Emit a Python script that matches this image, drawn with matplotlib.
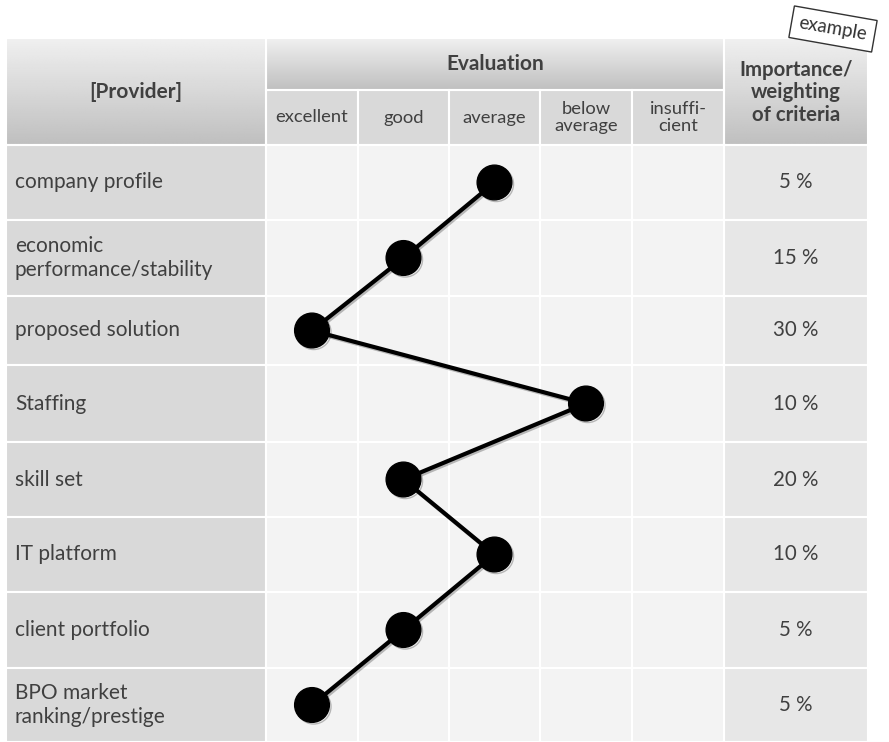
import matplotlib.pyplot as plt
import matplotlib.patheffects as pe
import numpy as np

# criteria, rating (1 = excellent ... 5 = insufficient) and weight
criteria = ['company profile', 'economic\nperformance/stability', 'proposed solution',
            'Staffing', 'skill set', 'IT platform', 'client portfolio',
            'BPO market\nranking/prestige']
ratings = [3, 2, 1, 4, 2, 3, 2, 1]
weights = ['5 %', '15 %', '30 %', '10 %', '20 %', '10 %', '5 %', '5 %']
scale_labels = ['excellent', 'good', 'average', 'below\naverage', 'insuffi-\ncient']

# layout (pixel grid of the figure)
W, H = 889, 742
col_edges = [6, 266, 358, 449, 540, 632, 724, 868]
row_edges = [145, 220, 296, 365, 442, 517, 592, 668, 742]
head_top, head_mid = 38, 90

txt = '#404040'
plt.rcParams['font.family'] = ['Lato', 'DejaVu Sans']

fig = plt.figure(figsize=(W / 100, H / 100), dpi=100)
ax = fig.add_axes([0, 0, 1, 1])
ax.set_xlim(0, W)
ax.set_ylim(H, 0)
ax.axis('off')

def cell(x0, x1, y0, y1, color):
    ax.add_patch(plt.Rectangle((x0, y0), x1 - x0, y1 - y0, facecolor=color,
                               edgecolor='white', linewidth=1.5, zorder=1))

def grad_cell(x0, x1, y0, y1):
    g = np.linspace(0.94, 0.75, 100).reshape(-1, 1)
    ax.imshow(g, cmap='gray', vmin=0, vmax=1, aspect='auto',
              extent=(x0, x1, y1, y0), zorder=1)
    ax.add_patch(plt.Rectangle((x0, y0), x1 - x0, y1 - y0, facecolor='none',
                               edgecolor='white', linewidth=1.5, zorder=2))

# header
grad_cell(col_edges[0], col_edges[1], head_top, row_edges[0])
grad_cell(col_edges[1], col_edges[6], head_top, head_mid)
grad_cell(col_edges[6], col_edges[7], head_top, row_edges[0])
for j in range(5):
    cell(col_edges[j + 1], col_edges[j + 2], head_mid, row_edges[0], '#d9d9d9')

ax.text((col_edges[0] + col_edges[1]) / 2, (head_top + row_edges[0]) / 2,
        '[Provider]', ha='center', va='center', fontsize=15, fontweight='bold', color=txt, zorder=3)
ax.text((col_edges[1] + col_edges[6]) / 2, (head_top + head_mid) / 2,
        'Evaluation', ha='center', va='center', fontsize=15, fontweight='bold', color=txt, zorder=3)
ax.text((col_edges[6] + col_edges[7]) / 2, (head_top + row_edges[0]) / 2 + 1,
        'Importance/\nweighting\nof criteria', ha='center', va='center', fontsize=14.7,
        fontweight='bold', color=txt, linespacing=1.15, zorder=3)
for j, lab in enumerate(scale_labels):
    ax.text((col_edges[j + 1] + col_edges[j + 2]) / 2, (head_mid + row_edges[0]) / 2,
            lab, ha='center', va='center', fontsize=13.2, color=txt, linespacing=1.05, zorder=3)

# body
for i, name in enumerate(criteria):
    y0, y1 = row_edges[i], row_edges[i + 1]
    cell(col_edges[0], col_edges[1], y0, y1, '#d9d9d9')
    for j in range(5):
        cell(col_edges[j + 1], col_edges[j + 2], y0, y1, '#f3f3f3')
    cell(col_edges[6], col_edges[7], y0, y1, '#e7e7e7')
    ax.text(15, (y0 + y1) / 2, name, ha='left', va='center', fontsize=15,
            color=txt, linespacing=1.2, zorder=3)
    ax.text((col_edges[6] + col_edges[7]) / 2, (y0 + y1) / 2, weights[i],
            ha='center', va='center', fontsize=14.8, color=txt, zorder=3)

# profile line
col_centers = [(col_edges[k] + col_edges[k + 1]) / 2 for k in range(1, 6)]
row_centers = [(row_edges[k] + row_edges[k + 1]) / 2 for k in range(8)]
xs = [col_centers[r - 1] for r in ratings]
ax.plot(xs, row_centers, color='black', linewidth=3, marker='o', markersize=25,
        zorder=5, solid_capstyle='round',
        path_effects=[pe.SimpleLineShadow(offset=(1.2, -1.2), alpha=0.25), pe.Normal()])

# "example" stamp
ax.text(833, 29, 'example', ha='center', va='center', fontsize=13.5, color='#333333',
        rotation=-10, rotation_mode='anchor', zorder=6,
        bbox=dict(boxstyle='square,pad=0.4', facecolor='white', edgecolor='#333333', linewidth=1))

fig.savefig('out.png', dpi=100)
